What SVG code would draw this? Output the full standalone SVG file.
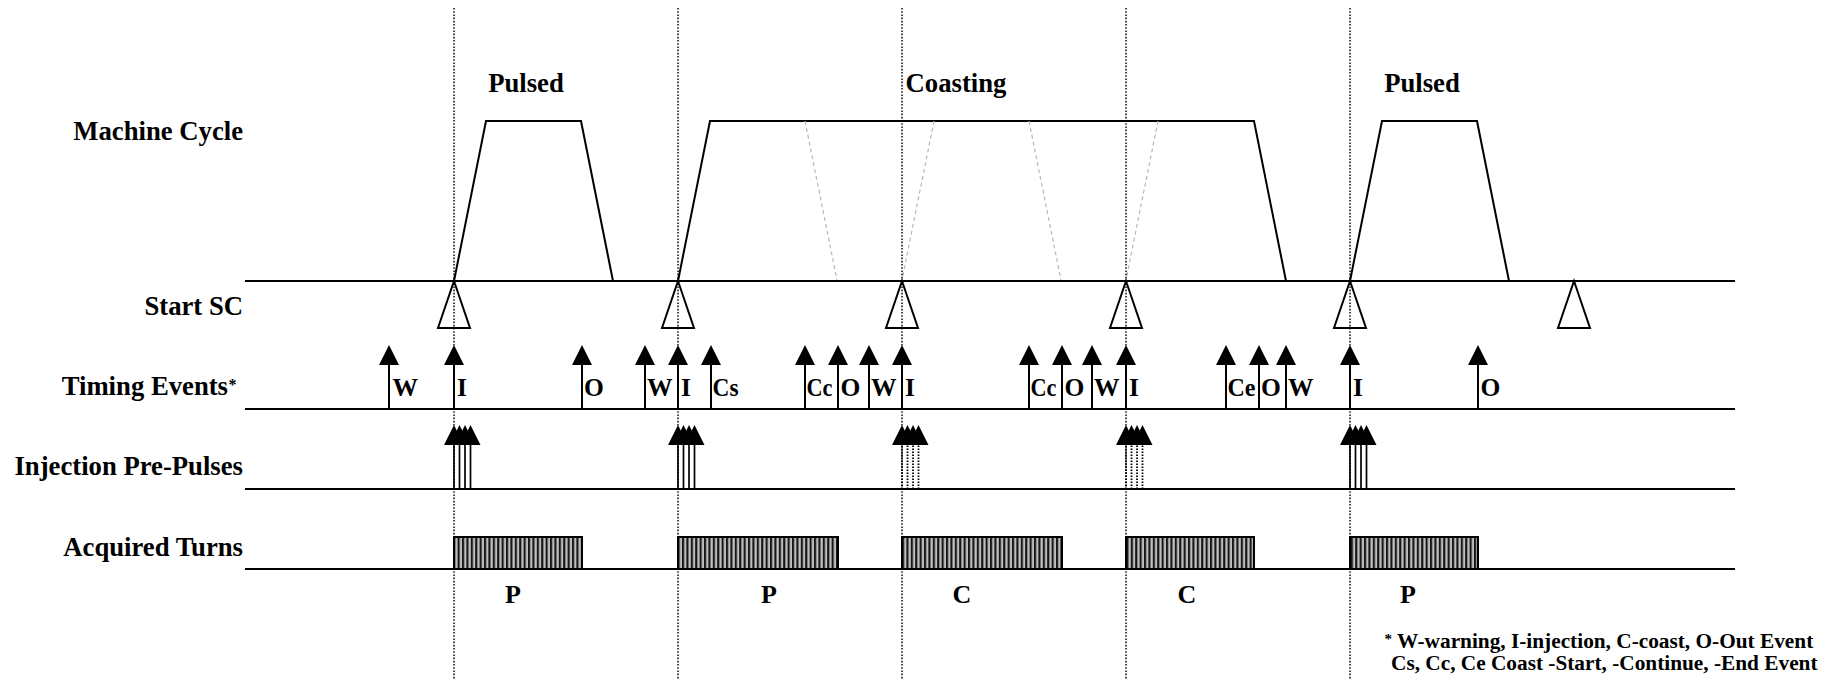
<svg xmlns="http://www.w3.org/2000/svg" xmlns:xlink="http://www.w3.org/1999/xlink" width="1831" height="680" viewBox="0 0 1831 680">
<style>
  text { font-family: "Liberation Serif", "Times New Roman", serif; font-weight: bold; fill: #000; }
  .lbl { font-size: 26.7px; text-anchor: end; }
  .hdr { font-size: 26.7px; text-anchor: middle; }
  .ev { font-size: 25.5px; }
  .mode { font-size: 26px; text-anchor: middle; }
  .note { font-size: 21.3px; }
  .sup { font-size: 16px; }
  .base { stroke: #000; stroke-width: 2.2; fill: none; }
  .wave { stroke: #000; stroke-width: 2; fill: none; stroke-linejoin: miter; }
  .ghost { stroke: #b8b8b8; stroke-width: 1.2; stroke-dasharray: 4 3; fill: none; }
  .guide { stroke: #000; stroke-width: 1.4; stroke-dasharray: 1.6 1.6; fill: none; }
  .sc { fill: #fff; stroke: #000; stroke-width: 2; stroke-linejoin: miter; }
  .stem { stroke: #000; stroke-width: 2; }
  .pstem { stroke: #000; stroke-width: 1.7; }
  .pdot { stroke: #000; stroke-width: 1.8; stroke-dasharray: 1.5 1.5; }
  .head { fill: #000; }
  .bar { fill: url(#hatch); stroke: #000; stroke-width: 2; }
</style>
<defs>
  <pattern id="hatch" patternUnits="userSpaceOnUse" width="4.4" height="10">
    <rect x="0" y="0" width="4.4" height="10" fill="#bdbdbd"/>
    <rect x="0" y="0" width="2.1" height="10" fill="#161616"/>
  </pattern>
  <polygon id="scTri" class="sc" points="0,0 -16,47 16,47"/>
  <g id="tev">
    <line class="stem" x1="0" y1="0" x2="0" y2="-45"/>
    <polygon class="head" points="0,-64 -10,-44 10,-44"/>
  </g>
  <g id="ppSolid">
    <line class="pstem" x1="0" y1="0" x2="0" y2="-45"/>
    <line class="pstem" x1="5.5" y1="0" x2="5.5" y2="-45"/>
    <line class="pstem" x1="11" y1="0" x2="11" y2="-45"/>
    <line class="pstem" x1="16.5" y1="0" x2="16.5" y2="-45"/>
    <polygon class="head" points="0,-64 -10,-44 10,-44"/>
    <polygon class="head" points="5.5,-64 -4.5,-44 15.5,-44"/>
    <polygon class="head" points="11,-64 1,-44 21,-44"/>
    <polygon class="head" points="16.5,-64 6.5,-44 26.5,-44"/>
  </g>
  <g id="ppDot">
    <line class="pdot" x1="0" y1="0" x2="0" y2="-45"/>
    <line class="pdot" x1="5.5" y1="0" x2="5.5" y2="-45"/>
    <line class="pdot" x1="11" y1="0" x2="11" y2="-45"/>
    <line class="pdot" x1="16.5" y1="0" x2="16.5" y2="-45"/>
    <polygon class="head" points="0,-64 -10,-44 10,-44"/>
    <polygon class="head" points="5.5,-64 -4.5,-44 15.5,-44"/>
    <polygon class="head" points="11,-64 1,-44 21,-44"/>
    <polygon class="head" points="16.5,-64 6.5,-44 26.5,-44"/>
  </g>
</defs>

<g id="row-labels">
  <text class="lbl" x="243" y="140">Machine Cycle</text>
  <text class="lbl" x="243" y="315">Start SC</text>
  <text class="lbl" x="228" y="395">Timing Events</text>
  <text class="sup" x="228.5" y="390">*</text>
  <text class="lbl" x="243" y="475">Injection Pre-Pulses</text>
  <text class="lbl" x="243" y="556">Acquired Turns</text>
</g>

<g id="baselines">
  <line class="base" x1="245" y1="281" x2="1735" y2="281"/>
  <line class="base" x1="245" y1="409" x2="1735" y2="409"/>
  <line class="base" x1="245" y1="489" x2="1735" y2="489"/>
  <line class="base" x1="245" y1="569" x2="1735" y2="569"/>
</g>

<g id="machine-cycle">
  <text class="hdr" x="526" y="92">Pulsed</text>
  <text class="hdr" x="956" y="92">Coasting</text>
  <text class="hdr" x="1422" y="92">Pulsed</text>
  <polyline class="wave" points="454,281 486,121 581,121 613,281"/>
  <polyline class="wave" points="678,281 710,121 1254,121 1286,281"/>
  <polyline class="wave" points="1350,281 1382,121 1477,121 1509,281"/>
  <line class="ghost" x1="805" y1="121" x2="837" y2="280"/>
  <line class="ghost" x1="934" y1="121" x2="902" y2="280"/>
  <line class="ghost" x1="1029" y1="121" x2="1061" y2="280"/>
  <line class="ghost" x1="1158" y1="121" x2="1126" y2="280"/>
</g>

<g id="start-sc">
  <use xlink:href="#scTri" x="454" y="281"/>
  <use xlink:href="#scTri" x="678" y="281"/>
  <use xlink:href="#scTri" x="902" y="281"/>
  <use xlink:href="#scTri" x="1126" y="281"/>
  <use xlink:href="#scTri" x="1350" y="281"/>
  <use xlink:href="#scTri" x="1574" y="281"/>
</g>

<g id="timing-events">
  <use xlink:href="#tev" x="389" y="409"/><text class="ev" x="392.5" y="396">W</text>
  <use xlink:href="#tev" x="454" y="409"/><text class="ev" x="457" y="396">I</text>
  <use xlink:href="#tev" x="582" y="409"/><text class="ev" x="584" y="396">O</text>
  <use xlink:href="#tev" x="645" y="409"/><text class="ev" x="647" y="396">W</text>
  <use xlink:href="#tev" x="678" y="409"/><text class="ev" x="681" y="396">I</text>
  <use xlink:href="#tev" x="711" y="409"/><text class="ev" x="712.5" y="396" textLength="26" lengthAdjust="spacingAndGlyphs">Cs</text>
  <use xlink:href="#tev" x="805" y="409"/><text class="ev" x="806.5" y="396" textLength="26" lengthAdjust="spacingAndGlyphs">Cc</text>
  <use xlink:href="#tev" x="838" y="409"/><text class="ev" x="840.5" y="396">O</text>
  <use xlink:href="#tev" x="869" y="409"/><text class="ev" x="871" y="396">W</text>
  <use xlink:href="#tev" x="902" y="409"/><text class="ev" x="905" y="396">I</text>
  <use xlink:href="#tev" x="1029" y="409"/><text class="ev" x="1030.5" y="396" textLength="26" lengthAdjust="spacingAndGlyphs">Cc</text>
  <use xlink:href="#tev" x="1062" y="409"/><text class="ev" x="1064.5" y="396">O</text>
  <use xlink:href="#tev" x="1092" y="409"/><text class="ev" x="1094" y="396">W</text>
  <use xlink:href="#tev" x="1126" y="409"/><text class="ev" x="1129" y="396">I</text>
  <use xlink:href="#tev" x="1226" y="409"/><text class="ev" x="1227.5" y="396" textLength="28" lengthAdjust="spacingAndGlyphs">Ce</text>
  <use xlink:href="#tev" x="1259" y="409"/><text class="ev" x="1261" y="396">O</text>
  <use xlink:href="#tev" x="1286" y="409"/><text class="ev" x="1288" y="396">W</text>
  <use xlink:href="#tev" x="1350" y="409"/><text class="ev" x="1353" y="396">I</text>
  <use xlink:href="#tev" x="1478" y="409"/><text class="ev" x="1480.5" y="396">O</text>
</g>

<g id="pre-pulses">
  <use xlink:href="#ppSolid" x="454" y="489"/>
  <use xlink:href="#ppSolid" x="678" y="489"/>
  <use xlink:href="#ppDot" x="902" y="489"/>
  <use xlink:href="#ppDot" x="1126" y="489"/>
  <use xlink:href="#ppSolid" x="1350" y="489"/>
</g>

<g id="acquired-turns">
  <rect class="bar" x="454" y="537" width="128" height="32"/>
  <rect class="bar" x="678" y="537" width="160" height="32"/>
  <rect class="bar" x="902" y="537" width="160" height="32"/>
  <rect class="bar" x="1126" y="537" width="128" height="32"/>
  <rect class="bar" x="1350" y="537" width="128" height="32"/>
</g>

<g id="mode-labels">
  <text class="mode" x="513" y="603">P</text>
  <text class="mode" x="769" y="603">P</text>
  <text class="mode" x="962" y="603">C</text>
  <text class="mode" x="1187" y="603">C</text>
  <text class="mode" x="1408" y="603">P</text>
</g>

<g id="guides">
  <line class="guide" x1="454" y1="8" x2="454" y2="680"/>
  <line class="guide" x1="678" y1="8" x2="678" y2="680"/>
  <line class="guide" x1="902" y1="8" x2="902" y2="680"/>
  <line class="guide" x1="1126" y1="8" x2="1126" y2="680"/>
  <line class="guide" x1="1350" y1="8" x2="1350" y2="680"/>
</g>

<g id="footnote">
  <text class="sup" x="1384.5" y="644" style="font-size:15px">*</text>
  <text class="note" x="1397" y="648">W-warning, I-injection, C-coast, O-Out Event</text>
  <text class="note" x="1391" y="670">Cs, Cc, Ce Coast -Start, -Continue, -End Event</text>
</g>
</svg>
